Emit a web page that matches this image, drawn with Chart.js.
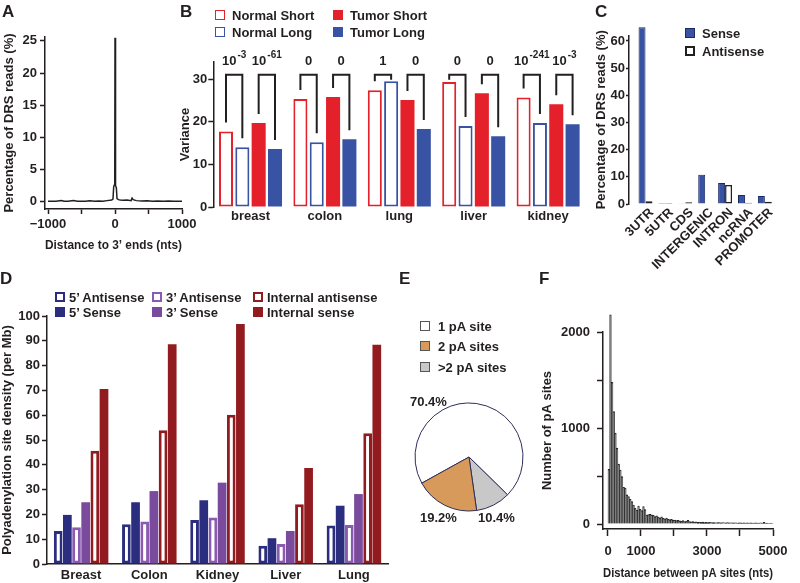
<!DOCTYPE html>
<html><head><meta charset="utf-8">
<script src="https://cdn.jsdelivr.net/npm/chart.js@4.4.1/dist/chart.umd.min.js"></script>
<style>
html,body{margin:0;padding:0;background:#fff;}
#wrap{position:relative;width:800px;height:583px;overflow:hidden;font-family:"Liberation Sans",Arial,Helvetica,sans-serif;font-weight:bold;color:#231f20;}
#wrap canvas{position:absolute;left:0;top:0;}
.t{position:absolute;white-space:nowrap;font-size:13px;line-height:13px;transform:translateY(-50%);}
.L{position:absolute;font-size:17px;line-height:17px;}
.sq{position:absolute;width:10px;height:10px;box-sizing:border-box;transform:translateY(-50%);}
</style></head>
<body><div id="wrap">
<canvas id="cA" width="800" height="583"></canvas>
<canvas id="cB" width="800" height="583"></canvas>
<canvas id="cC" width="800" height="583"></canvas>
<canvas id="cD" width="800" height="583"></canvas>
<canvas id="cE" width="800" height="583"></canvas>
<canvas id="cF" width="800" height="583"></canvas>
</div>
<script>
// ---------- DATA ----------
// Panel A: distance to 3' ends vs percentage of DRS reads
const aDistance = [-1000,-940,-880,-800,-760,-700,-620,-560,-500,-440,-380,-300,-240,-180,-120,-80,-50,-30,-20,-12,-4,0,4,12,20,30,50,80,120,180,240,255,270,320,400,480,560,640,720,800,880,940,1000];
const aPercent  = [0.10,0.12,0.10,0.22,0.10,0.11,0.20,0.10,0.12,0.10,0.18,0.11,0.14,0.12,0.20,0.25,0.30,0.45,2.3,2.6,2.7,25.5,2.6,2.5,2.2,0.5,0.35,0.3,0.25,0.3,0.2,0.6,0.35,0.2,0.15,0.18,0.12,0.15,0.10,0.14,0.10,0.12,0.10];
const aXTicks = [-1000,-500,0,500,1000];
const aXTickLabels = ['−1000','','0','','1000'];
const aYTicks = [0,5,10,15,20,25];

// Panel B: variance
const bTissues = ['breast','colon','lung','liver','kidney'];
const bSeries = ['Normal Short','Normal Long','Tumor Short','Tumor Long'];
const bNormalShort = [17.7,25.3,27.4,29.3,25.7];
const bNormalLong  = [14.0,15.2,29.5,19.0,19.7];
const bTumorShort  = [19.7,25.8,25.1,26.7,24.1];
const bTumorLong   = [13.6,15.9,18.3,16.6,19.4];
const bPNormal = ['10^-3','0','1','0','10^-241'];
const bPTumor  = ['10^-61','0','0','0','10^-3'];
const bYTicks = [0,10,20,30];

// Panel C: genomic regions
const cRegions = ['3UTR','5UTR','CDS','INTERGENIC','INTRON','ncRNA','PROMOTER'];
const cSeries = ['Sense','Antisense'];
const cSense     = [65.0,0.4,0.3,10.8,7.7,3.3,2.9];
const cAntisense = [1.0,0.4,0.6,0.0,7.0,0.5,0.8];
const cYTicks = [0,10,20,30,40,50,60];

// Panel D: polyadenylation site density
const dTissues = ['Breast','Colon','Kidney','Liver','Lung'];
const dSeries = ['5’ Antisense','5’ Sense','3’ Antisense','3’ Sense','Internal antisense','Internal sense'];
const d5Antisense   = [13.3,16.0,17.7,7.4,15.5];
const d5Sense       = [19.8,24.9,25.7,10.4,23.5];
const d3Antisense   = [14.8,17.1,18.8,8.1,15.7];
const d3Sense       = [24.9,29.4,32.8,13.3,28.2];
const dIntAntisense = [45.7,53.9,60.2,24.1,52.7];
const dIntSense     = [70.6,88.6,96.8,38.7,88.4];
const dYTicks = [0,10,20,30,40,50,60,70,80,90,100];

// Panel E: pA sites per gene
const eLabels = ['1 pA site','2 pA sites','>2 pA sites'];
const eShares = [70.4,19.2,10.4];

// Panel F: distance between pA sites histogram (50-nt bins from 0)
const fBinStart = 0;
const fBinWidth = 50;
const fCounts = [570,2180,1475,1170,946,790,623,563,494,383,375,303,285,257,233,198,163,146,188,153,
140,181,150,94,98,100,95,90,78,85,72,65,75,60,55,62,50,45,48,40,
42,35,38,32,28,35,26,30,38,25,22,24,20,22,18,20,17,19,16,18,
15,17,14,16,15,13,15,14,12,14,13,12,14,11,13,12,11,13,10,12,
11,10,12,10,11,9,12,10,9,11,10,9,13,10,18,9,10,8,9,8];
const fXTicks = [0,1000,2000,3000,4000,5000];
const fXTickLabels = ['0','1000','','3000','','5000'];
const fYTicks = [0,500,1000,1500,2000];
const fYTickLabels = ['0','','1000','','2000'];

// ---------- STYLE ----------
const INK = '#231f20';
const FAMILY = '"Liberation Sans", Arial, Helvetica, sans-serif';
const RED = '#e4202a', BLUE = '#3853a4';
const NAVY = '#2b2d7f', PURPLE = '#7a4a9d', PURPLE_L = '#8a5bb0', DRED = '#921b1f';
const W = 800, H = 583;

Chart.defaults.font.family = FAMILY;
Chart.defaults.font.size = 13;
Chart.defaults.font.weight = 'bold';
Chart.defaults.color = INK;
Chart.defaults.animation = false;
Chart.defaults.events = [];
Chart.defaults.plugins.legend.display = false;
Chart.defaults.plugins.tooltip.enabled = false;

function box(l,t,r,b,yW,xH){ return {padding:{left:l-yW, top:t, right:W-r, bottom:H-b-xH}}; }
function fixW(w){ return s => { s.width = w; }; }
function fixH(h){ return s => { s.height = h; }; }
function setTicks(vals){ return s => { s.ticks = vals.map(v => ({value:v})); }; }
function axisStyle(tl){ return { grid:{display:true, offset:false, drawOnChartArea:false, drawTicks:true, tickLength:tl, tickColor:INK, tickWidth:1.5}, border:{display:true, color:INK, width:1.5} }; }
const noGrid = {display:false, drawTicks:false};

// ---------- A ----------
new Chart(document.getElementById('cA'), {
  type:'line',
  data:{datasets:[{data:aDistance.map((x,i)=>({x, y:aPercent[i]})), borderColor:INK, borderWidth:1.5, pointRadius:0, tension:0, fill:false}]},
  options:{responsive:false, layout:box(45,37,182,209,45,46),
    scales:{
      x:{type:'linear', min:-1045, max:1000, afterBuildTicks:setTicks(aXTicks), afterFit:fixH(46),
         ticks:{callback:(v,i)=>aXTickLabels[i], maxRotation:0, autoSkip:false, padding:3}, ...axisStyle(5),
         title:{display:true, text:'Distance to 3’ ends (nts)', padding:{top:0,bottom:2}}},
      y:{type:'linear', min:-1.1, max:25.6, afterBuildTicks:setTicks(aYTicks), afterFit:fixW(45),
         ticks:{padding:3}, ...axisStyle(5),
         title:{display:true, text:'Percentage of DRS reads (%)', padding:{top:2,bottom:0}}}
    }}
});

// ---------- B ----------
const bBracketLevel = 31;
function drawPow(ctx, txt, cx, baseY){
  const parts = txt.split('^');
  ctx.font = 'bold 13px ' + FAMILY; const wb = ctx.measureText(parts[0]).width;
  let we = 0;
  if (parts[1]) { ctx.font = 'bold 10px ' + FAMILY; we = ctx.measureText(parts[1]).width + 1; }
  const x = cx - (wb + we)/2;
  ctx.textAlign = 'left'; ctx.textBaseline = 'alphabetic'; ctx.fillStyle = INK;
  ctx.font = 'bold 13px ' + FAMILY; ctx.fillText(parts[0], x, baseY);
  if (parts[1]) { ctx.font = 'bold 10px ' + FAMILY; ctx.fillText(parts[1], x + wb + 1, baseY - 7); }
}
const bracketPlugin = {id:'brackets', afterDatasetsDraw(chart){
  const ctx = chart.ctx, ys = chart.scales.y;
  const by = ys.getPixelForValue(bBracketLevel);
  const pairs = [[0,1,bPNormal],[2,3,bPTumor]];
  ctx.save();
  ctx.strokeStyle = INK; ctx.lineWidth = 2;
  pairs.forEach(([d0,d1,pv]) => {
    const m0 = chart.getDatasetMeta(d0).data, m1 = chart.getDatasetMeta(d1).data;
    m0.forEach((a,i) => {
      const b = m1[i];
      const ea = Math.max(by + 5, a.y - 9), eb = Math.max(by + 5, b.y - 9);
      ctx.beginPath(); ctx.moveTo(a.x, ea); ctx.lineTo(a.x, by); ctx.lineTo(b.x, by); ctx.lineTo(b.x, eb); ctx.stroke();
      drawPow(ctx, pv[i], (a.x + b.x)/2, by - 10);
    });
  });
  ctx.restore();
}};
new Chart(document.getElementById('cB'), {
  type:'bar',
  data:{labels:bTissues, datasets:[
    {label:bSeries[0], data:bNormalShort, backgroundColor:'#fff', borderColor:RED, borderWidth:2, borderSkipped:false},
    {label:bSeries[1], data:bNormalLong, backgroundColor:'#fff', borderColor:BLUE, borderWidth:2, borderSkipped:false},
    {label:bSeries[2], data:bTumorShort, backgroundColor:RED, borderWidth:0},
    {label:bSeries[3], data:bTumorLong, backgroundColor:BLUE, borderWidth:0}
  ]},
  plugins:[bracketPlugin],
  options:{responsive:false, layout:box(213.3,62,585.3,207,38,20),
    datasets:{bar:{categoryPercentage:0.878, barPercentage:0.86}},
    scales:{
      x:{afterFit:fixH(20), grid:noGrid, border:{display:false}, ticks:{padding:2}},
      y:{min:0, max:34, afterBuildTicks:setTicks(bYTicks), afterFit:fixW(38), ticks:{padding:1}, ...axisStyle(5),
         title:{display:true, text:'Variance', padding:{top:2,bottom:0}}}
    }}
});

// ---------- C ----------
new Chart(document.getElementById('cC'), {
  type:'bar',
  data:{datasets:[
    {label:cSeries[0], data:cSense.map((y,x)=>({x,y})), backgroundColor:BLUE, borderColor:'#1b2a63', borderWidth:1, clip:false},
    {label:cSeries[1], data:cAntisense.map((y,x)=>({x,y})), backgroundColor:'#fff', borderColor:INK, borderWidth:1.5, borderSkipped:false, clip:false}
  ]},
  options:{responsive:false, layout:box(629,35.5,776,204,37,70),
    datasets:{bar:{categoryPercentage:0.7, barPercentage:1}},
    scales:{
      x:{type:'linear', offset:false, min:-0.83, max:6.56, afterBuildTicks:setTicks(cRegions.map((_,i)=>i)), afterFit:fixH(70),
         ticks:{callback:(v,i)=>cRegions[i], minRotation:45, maxRotation:45, autoSkip:false, padding:1, labelOffset:6},
         grid:{display:false, drawTicks:false, offset:false}, border:{display:false}},
      y:{min:0, max:62, afterBuildTicks:setTicks(cYTicks), afterFit:fixW(37), ticks:{padding:1}, ...axisStyle(3),
         title:{display:true, text:'Percentage of DRS reads (%)', padding:{top:2,bottom:0}}}
    }}
});

// ---------- D ----------
const dValues = [d5Antisense, d5Sense, d3Antisense, d3Sense, dIntAntisense, dIntSense];
const dStyles = [
  {backgroundColor:'#fff', borderColor:NAVY, borderWidth:3, borderSkipped:false},
  {backgroundColor:NAVY, borderWidth:0},
  {backgroundColor:'#fff', borderColor:PURPLE_L, borderWidth:3, borderSkipped:false},
  {backgroundColor:PURPLE, borderWidth:0},
  {backgroundColor:'#fff', borderColor:DRED, borderWidth:3, borderSkipped:false},
  {backgroundColor:DRED, borderWidth:0}
];
new Chart(document.getElementById('cD'), {
  type:'bar',
  data:{labels:dTissues, datasets:dValues.map((v,i)=>Object.assign({label:dSeries[i], data:v}, dStyles[i]))},
  options:{responsive:false, layout:box(47,316,388,564,47,19),
    datasets:{bar:{categoryPercentage:0.806, barPercentage:0.95}},
    scales:{
      x:{afterFit:fixH(19), grid:noGrid, border:{display:true, color:INK, width:1.5}, ticks:{padding:4}},
      y:{min:0, max:100, afterBuildTicks:setTicks(dYTicks), afterFit:fixW(47), ticks:{padding:2}, ...axisStyle(5),
         title:{display:true, text:'Polyadenylation site density (per Mb)', padding:{top:0,bottom:0}}}
    }}
});

// ---------- E ----------
const eColors = ['#ffffff','#d89a5a','#c8c8c8'];
const ePieOrder = [0,2,1]; // clockwise drawing order
new Chart(document.getElementById('cE'), {
  type:'pie',
  data:{labels:ePieOrder.map(i=>eLabels[i]), datasets:[{data:ePieOrder.map(i=>eShares[i]), backgroundColor:ePieOrder.map(i=>eColors[i]), borderColor:'#2e2e5a', borderWidth:1}]},
  options:{responsive:false, rotation:241, radius:54, layout:{padding:{left:415, top:403, right:W-523, bottom:H-511}}}
});

// ---------- F ----------
new Chart(document.getElementById('cF'), {
  type:'bar',
  data:{datasets:[{data:fCounts.map((c,i)=>({x:fBinStart + (i+0.5)*fBinWidth, y:c})), backgroundColor:'#6e6e6e', borderColor:'#1e1e1e', borderWidth:0.8, clip:false}]},
  options:{responsive:false, layout:box(603,332,773,529,65,54),
    datasets:{bar:{categoryPercentage:1, barPercentage:1}},
    scales:{
      x:{type:'linear', offset:false, min:-151.5, max:5000, afterBuildTicks:setTicks(fXTicks), afterFit:fixH(54),
         ticks:{callback:(v,i)=>fXTickLabels[i], maxRotation:0, autoSkip:false, padding:8}, ...axisStyle(7),
         title:{display:true, text:'Distance between pA sites (nts)', padding:{top:0,bottom:2}}},
      y:{min:-52, max:2000, afterBuildTicks:setTicks(fYTicks), afterFit:fixW(65),
         ticks:{callback:(v,i)=>fYTickLabels[i], padding:7}, ...axisStyle(6),
         title:{display:true, text:'Number of pA sites', padding:{top:2,bottom:0}}}
    }}
});

// ---------- TEXT: letters, legends, labels ----------
const wrap = document.getElementById('wrap');
function el(cls, css, txt){ const d = document.createElement('div'); d.className = cls; Object.assign(d.style, css); if (txt !== undefined) d.textContent = txt; wrap.appendChild(d); return d; }
function letter(t, x, y){ el('L', {left:x+'px', top:y+'px'}, t); }
function text(t, x, yc){ return el('t', {left:x+'px', top:yc+'px'}, t); }
function square(x, yc, fill, border, bw){ el('sq', {left:x+'px', top:yc+'px', background:fill, border:(bw||0)+'px solid '+(border||fill)}); }

letter('A', 2, 3); letter('B', 180, 3); letter('C', 595, 3);
letter('D', 0, 270); letter('E', 399, 270); letter('F', 539, 270);

// B legend
square(215, 15, '#fff', RED, 1.5); text(bSeries[0], 232, 15);
square(215, 32, '#fff', BLUE, 1.5); text(bSeries[1], 232, 32);
square(333, 15, RED, RED, 0); text(bSeries[2], 350, 15);
square(333, 32, BLUE, BLUE, 0); text(bSeries[3], 350, 32);

// C legend
square(685, 33, BLUE, '#1b2a63', 1); text(cSeries[0], 702, 33);
square(685, 51, '#fff', INK, 2); text(cSeries[1], 702, 51);

// D legend
const dLegX = [55, 152, 253], dLegY = [297, 312];
dSeries.forEach((s,i) => {
  const col = Math.floor(i/2), row = i % 2;
  const st = dStyles[i];
  if (st.borderWidth) square(dLegX[col], dLegY[row], '#fff', st.borderColor, 2.5);
  else square(dLegX[col], dLegY[row], st.backgroundColor, st.backgroundColor, 0);
  text(s, dLegX[col] + 14, dLegY[row]);
});

// E legend
const eLegY = [326, 346, 367];
eLabels.forEach((s,i) => { square(420, eLegY[i], eColors[i], '#555', 1); text(s, 438, eLegY[i]); });
// E slice labels
const eLabPos = [[410, 401], [420, 517], [478, 517]];
eShares.forEach((v,i) => text(v.toFixed(1) + '%', eLabPos[i][0], eLabPos[i][1]));
</script>
</body></html>
